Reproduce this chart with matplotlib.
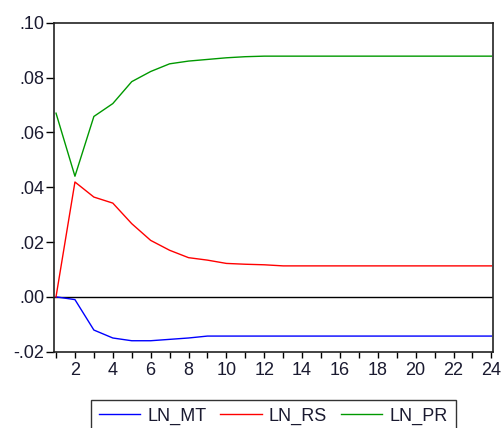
import matplotlib
matplotlib.use("Agg")
import matplotlib.pyplot as plt
from matplotlib.ticker import FixedLocator

plt.rcParams['font.family'] = ['Liberation Sans', 'DejaVu Sans']

periods = list(range(1, 25))
ln_mt = [0.0, -0.0010, -0.0121, -0.0150, -0.0160, -0.0160, -0.0155, -0.0150,
         -0.0143, -0.0143, -0.0143, -0.0143, -0.0143, -0.0143, -0.0143, -0.0143,
         -0.0143, -0.0143, -0.0143, -0.0143, -0.0143, -0.0143, -0.0143, -0.0143]
ln_rs = [0.0, 0.0419, 0.0364, 0.0342, 0.0267, 0.0206, 0.0170, 0.0143,
         0.0134, 0.0122, 0.0119, 0.0117, 0.0113, 0.0113, 0.0113, 0.0113,
         0.0113, 0.0113, 0.0113, 0.0113, 0.0113, 0.0113, 0.0113, 0.0113]
ln_pr = [0.0670, 0.0440, 0.0658, 0.0705, 0.0785, 0.0822, 0.0850, 0.0860,
         0.0866, 0.0872, 0.0876, 0.0878, 0.0878, 0.0878, 0.0878, 0.0878,
         0.0878, 0.0878, 0.0878, 0.0878, 0.0878, 0.0878, 0.0878, 0.0878]
y_ticks = [-0.02, 0.00, 0.02, 0.04, 0.06, 0.08, 0.10]
y_labels = ['-.02', '.00', '.02', '.04', '.06', '.08', '.10']
x_ticks = list(range(2, 25, 2))

fig = plt.figure(figsize=(5.02, 4.28), dpi=100)
ax = fig.add_axes([54.5/502, 1 - 351.7/428, (492.7 - 54.5)/502, (351.7 - 22.7)/428])

ax.plot(periods, ln_mt, color='#0000ff', lw=1.0, label='LN_MT')
ax.plot(periods, ln_rs, color='#ff0000', lw=1.0, label='LN_RS')
ax.plot(periods, ln_pr, color='#009900', lw=1.0, label='LN_PR')
ax.axhline(0, color='black', lw=1.0, zorder=1)

ax.set_xlim(0.92, 24.07)
ax.set_ylim(-0.02, 0.10)
ax.set_yticks(y_ticks)
ax.set_yticklabels(y_labels)
ax.set_xticks(x_ticks)
ax.set_xticklabels([str(v) for v in x_ticks])
ax.xaxis.set_minor_locator(FixedLocator(periods))
ax.tick_params(axis='x', which='both', direction='out', length=4.3, width=1.0,
               labelsize=13, pad=3, color='black', labelcolor='#1a1a30')
ax.tick_params(axis='y', direction='out', length=5.5, width=1.0, labelsize=13,
               pad=2, color='black', labelcolor='#1a1a30')
for s in ax.spines.values():
    s.set_color('#222222')
    s.set_linewidth(1.2)

leg = fig.legend(loc='upper left', bbox_to_anchor=(90.5/502, 1 - 399.5/428), ncol=3,
                 fontsize=13, frameon=True, fancybox=False, edgecolor='black',
                 handlelength=2.3, handletextpad=0.4, columnspacing=0.75,
                 borderpad=0.45, borderaxespad=0)
leg.get_frame().set_linewidth(1.0)
for t in leg.get_texts():
    t.set_color('#1a1a30')

fig.savefig('out.png', dpi=100)
